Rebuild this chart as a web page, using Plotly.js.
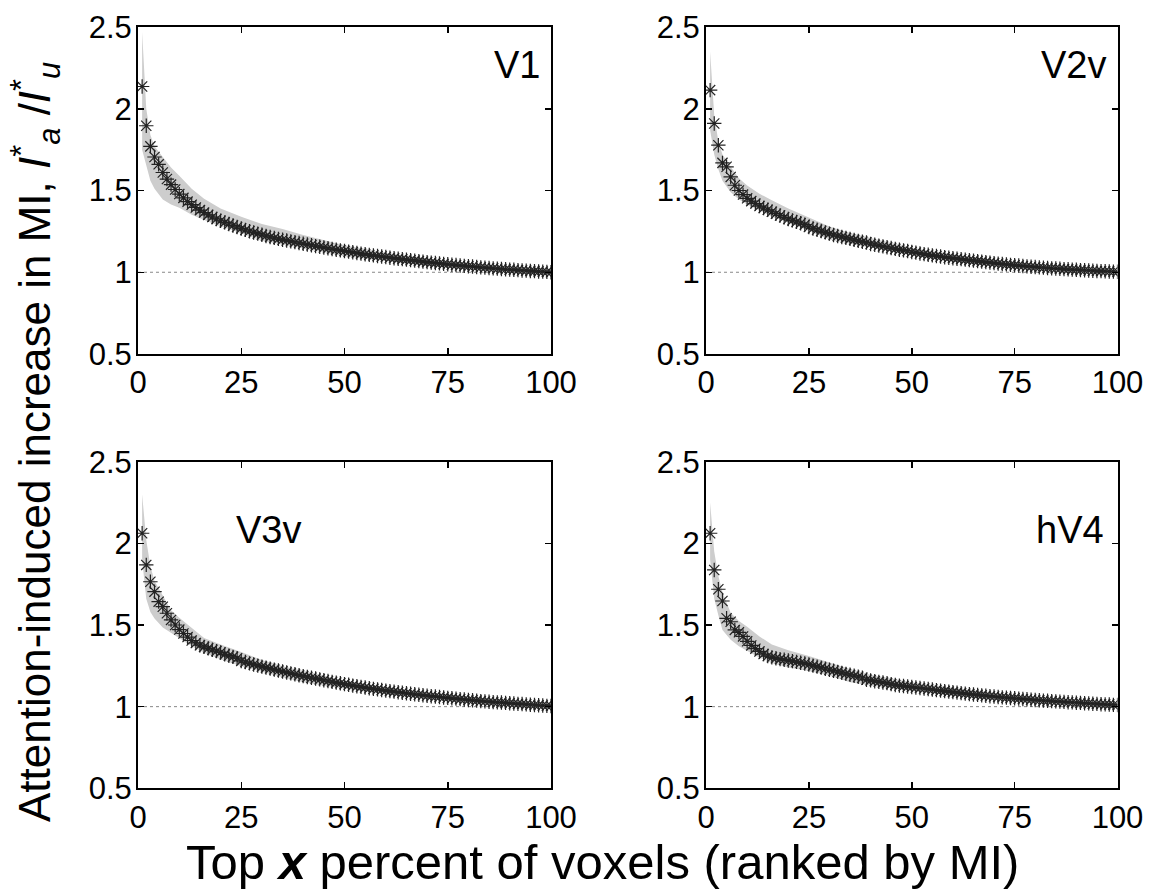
<!DOCTYPE html>
<html>
<head>
<meta charset="utf-8">
<script src="https://cdn.plot.ly/plotly-3.0.1.min.js"></script>
<style>html,body{margin:0;padding:0;background:#fff;}#plot{width:1149px;height:896px;}</style>
</head>
<body>
<div id="plot"></div>
<script>
// ---- data ----
const panelNames = ["V1", "V2v", "V3v", "hV4"];
const xTickVals = [0, 25, 50, 75, 100];
const yTickVals = [0.5, 1, 1.5, 2, 2.5];
const yTickText = ["0.5", "1", "1.5", "2", "2.5"];
const baselineX = [0, 100];
const baselineY = [1, 1];

const voxelPct = [1,2,3,4,5,6,7,8,9,10,11,12,13,14,15,16,17,18,19,20,21,22,23,24,25,26,27,28,29,30,31,32,33,34,35,36,37,38,39,40,41,42,43,44,45,46,47,48,49,50,51,52,53,54,55,56,57,58,59,60,61,62,63,64,65,66,67,68,69,70,71,72,73,74,75,76,77,78,79,80,81,82,83,84,85,86,87,88,89,90,91,92,93,94,95,96,97,98,99,100];

const meanV1 = [2.136,1.896,1.77,1.705,1.66,1.61,1.57,1.536,1.506,1.478,1.455,1.432,1.413,1.396,1.38,1.365,1.351,1.338,1.326,1.315,1.305,1.295,1.286,1.277,1.268,1.259,1.251,1.243,1.236,1.229,1.222,1.216,1.21,1.204,1.199,1.194,1.189,1.184,1.179,1.174,1.17,1.165,1.16,1.156,1.151,1.147,1.142,1.138,1.134,1.13,1.126,1.122,1.118,1.114,1.11,1.106,1.103,1.099,1.096,1.093,1.089,1.086,1.083,1.08,1.077,1.074,1.071,1.068,1.065,1.062,1.059,1.057,1.054,1.051,1.049,1.046,1.044,1.041,1.039,1.037,1.035,1.032,1.03,1.028,1.026,1.024,1.022,1.02,1.018,1.016,1.015,1.013,1.011,1.01,1.008,1.007,1.005,1.004,1.002,1.0];

const meanV2v = [2.114,1.91,1.777,1.669,1.645,1.583,1.532,1.5,1.475,1.452,1.435,1.42,1.405,1.393,1.382,1.37,1.358,1.347,1.336,1.326,1.317,1.308,1.3,1.291,1.277,1.268,1.26,1.252,1.244,1.236,1.228,1.222,1.216,1.21,1.204,1.198,1.192,1.187,1.182,1.173,1.168,1.163,1.158,1.153,1.148,1.143,1.138,1.134,1.13,1.124,1.12,1.115,1.111,1.107,1.103,1.099,1.096,1.092,1.089,1.086,1.083,1.08,1.077,1.074,1.071,1.068,1.065,1.062,1.059,1.056,1.053,1.05,1.048,1.045,1.043,1.041,1.038,1.036,1.034,1.032,1.03,1.028,1.026,1.024,1.023,1.021,1.019,1.018,1.016,1.015,1.013,1.012,1.011,1.009,1.008,1.007,1.006,1.005,1.004,1.003];

const meanV3v = [2.062,1.868,1.765,1.704,1.643,1.612,1.572,1.531,1.5,1.472,1.448,1.426,1.405,1.39,1.376,1.366,1.357,1.348,1.34,1.332,1.32,1.312,1.305,1.297,1.28,1.273,1.265,1.258,1.251,1.245,1.239,1.233,1.227,1.221,1.215,1.209,1.204,1.198,1.192,1.187,1.182,1.177,1.172,1.167,1.162,1.157,1.152,1.147,1.143,1.138,1.134,1.129,1.125,1.121,1.117,1.113,1.109,1.106,1.102,1.098,1.095,1.092,1.088,1.085,1.082,1.079,1.076,1.073,1.07,1.067,1.064,1.062,1.059,1.056,1.054,1.051,1.049,1.046,1.044,1.041,1.039,1.037,1.034,1.032,1.03,1.028,1.026,1.025,1.023,1.021,1.019,1.017,1.016,1.014,1.012,1.01,1.009,1.007,1.005,1.004];

const meanHV4 = [2.062,1.837,1.719,1.647,1.541,1.52,1.47,1.455,1.43,1.4,1.375,1.355,1.338,1.322,1.31,1.302,1.296,1.291,1.287,1.283,1.279,1.274,1.269,1.264,1.258,1.251,1.245,1.239,1.232,1.226,1.22,1.213,1.207,1.201,1.195,1.189,1.183,1.177,1.165,1.161,1.156,1.152,1.148,1.144,1.138,1.133,1.129,1.126,1.123,1.12,1.117,1.114,1.111,1.108,1.105,1.101,1.098,1.095,1.092,1.089,1.086,1.083,1.08,1.077,1.074,1.072,1.069,1.067,1.064,1.062,1.059,1.057,1.055,1.053,1.051,1.049,1.047,1.045,1.043,1.041,1.039,1.037,1.036,1.034,1.032,1.031,1.029,1.027,1.026,1.024,1.023,1.021,1.02,1.018,1.017,1.015,1.014,1.013,1.011,1.01];

const bandX = [1,2,3,4,6,8,10,13,16,20,25,30,35,40,50,60,70,80,90,100];
const upperV1  = [2.47,2.0,1.84,1.77,1.705,1.64,1.59,1.51,1.45,1.39,1.34,1.295,1.265,1.228,1.165,1.12,1.085,1.055,1.03,1.01];
const lowerV1  = [1.75,1.65,1.56,1.51,1.445,1.415,1.395,1.352,1.32,1.28,1.238,1.192,1.17,1.145,1.098,1.066,1.038,1.022,1.008,0.99];
const upperV2v = [2.35,1.96,1.8,1.72,1.645,1.575,1.53,1.48,1.44,1.39,1.335,1.28,1.24,1.21,1.15,1.11,1.075,1.05,1.03,1.012];
const lowerV2v = [1.87,1.72,1.63,1.56,1.49,1.445,1.415,1.375,1.34,1.305,1.25,1.2,1.175,1.15,1.105,1.068,1.04,1.022,1.008,0.995];
const upperV3v = [2.3,2.02,1.86,1.77,1.68,1.59,1.545,1.48,1.42,1.38,1.335,1.285,1.248,1.22,1.16,1.12,1.088,1.06,1.035,1.012];
const lowerV3v = [1.9,1.66,1.58,1.54,1.485,1.45,1.42,1.37,1.33,1.29,1.247,1.215,1.18,1.15,1.11,1.075,1.048,1.028,1.01,0.996];
const upperHV4 = [2.25,1.95,1.8,1.7,1.575,1.525,1.49,1.43,1.38,1.345,1.31,1.27,1.23,1.195,1.15,1.115,1.085,1.055,1.035,1.018];
const lowerHV4 = [1.9,1.66,1.56,1.47,1.41,1.37,1.345,1.3,1.268,1.24,1.218,1.19,1.15,1.13,1.095,1.068,1.045,1.028,1.015,1.003];

const panels = [
  {name: panelNames[0], mean: meanV1,  upper: upperV1,  lower: lowerV1},
  {name: panelNames[1], mean: meanV2v, upper: upperV2v, lower: lowerV2v},
  {name: panelNames[2], mean: meanV3v, upper: upperV3v, lower: lowerV3v},
  {name: panelNames[3], mean: meanHV4, upper: upperHV4, lower: lowerHV4}
];

// ---- layout geometry (pixels -> paper) ----
const W = 1149, H = 896;
const xDomains = [[138/W, 551/W], [706/W, 1117.5/W]];
const yDomains = [[1 - 354/H, 1 - 27/H], [1 - 788.3/H, 1 - 461.7/H]];
const labelPos = [
  {x: 97.8, y: 2.27}, {x: 97.6, y: 2.27}, {x: 40.0, y: 2.08}, {x: 97.2, y: 2.08}
];

const FONT = "'Liberation Sans', Arial, Helvetica, sans-serif";
const traces = [];
const layout = {
  width: W, height: H,
  margin: {l: 0, r: 0, t: 0, b: 0},
  paper_bgcolor: '#fff', plot_bgcolor: '#fff',
  showlegend: false,
  font: {family: FONT, color: '#000'},
  annotations: []
};

panels.forEach((p, i) => {
  const col = i % 2, row = Math.floor(i / 2);
  const xa = 'x' + (i === 0 ? '' : i + 1);
  const ya = 'y' + (i === 0 ? '' : i + 1);
  const bandPolyX = bandX.concat(bandX.slice().reverse());
  const bandPolyY = p.upper.concat(p.lower.slice().reverse());
  traces.push({
    x: bandPolyX, y: bandPolyY, xaxis: xa, yaxis: ya,
    type: 'scatter', mode: 'lines', fill: 'toself',
    fillcolor: '#cdcdcd', line: {width: 0, color: 'rgba(0,0,0,0)'},
    hoverinfo: 'skip'
  });
  traces.push({
    x: baselineX, y: baselineY, xaxis: xa, yaxis: ya,
    type: 'scatter', mode: 'lines',
    line: {color: '#888', width: 1, dash: 'dot'}
  });
  traces.push({
    x: voxelPct, y: p.mean, xaxis: xa, yaxis: ya,
    type: 'scatter', mode: 'markers',
    marker: {symbol: 'asterisk-open', size: 12, color: '#222',
             line: {color: 'rgba(20,20,20,0.8)', width: 1.2}}
  });
  const axCommon = {
    showgrid: false, zeroline: false,
    showline: true, linecolor: '#000', linewidth: 2, mirror: 'ticks',
    ticks: 'inside', ticklen: 6, tickwidth: 1.5, tickcolor: '#000',
    tickfont: {family: FONT, size: 31, color: '#000'}
  };
  layout['xaxis' + (i === 0 ? '' : i + 1)] = Object.assign({}, axCommon, {
    domain: xDomains[col], range: [0, 100], anchor: ya,
    tickmode: 'array', tickvals: xTickVals
  });
  layout['yaxis' + (i === 0 ? '' : i + 1)] = Object.assign({}, axCommon, {
    domain: yDomains[row], range: [0.5, 2.5], anchor: xa,
    tickmode: 'array', tickvals: yTickVals, ticktext: yTickText,
    ticklabelstandoff: -2
  });
  layout.annotations.push({
    xref: xa, yref: ya, x: labelPos[i].x, y: labelPos[i].y,
    text: p.name, showarrow: false, xanchor: 'right', yanchor: 'middle',
    font: {family: FONT, size: 38, color: '#000'}
  });
});

layout.annotations.push({
  xref: 'paper', yref: 'paper', x: 35/W, y: 1 - 442/H,
  text: 'Attention-induced increase in MI, <i>I</i><sup>*</sup><sub><i>a</i></sub> /<i>I</i><sup>*</sup><sub><i>u</i></sub>',
  textangle: -90, showarrow: false, xanchor: 'center', yanchor: 'middle',
  font: {family: FONT, size: 44, color: '#000'}
});
layout.annotations.push({
  xref: 'paper', yref: 'paper', x: 602/W, y: 1 - 862/H,
  text: 'Top <b><i>x</i></b> percent of voxels (ranked by MI)',
  showarrow: false, xanchor: 'center', yanchor: 'middle',
  font: {family: FONT, size: 49, color: '#000'}
});

Plotly.newPlot('plot', traces, layout, {staticPlot: true, displayModeBar: false});
</script>
</body>
</html>
